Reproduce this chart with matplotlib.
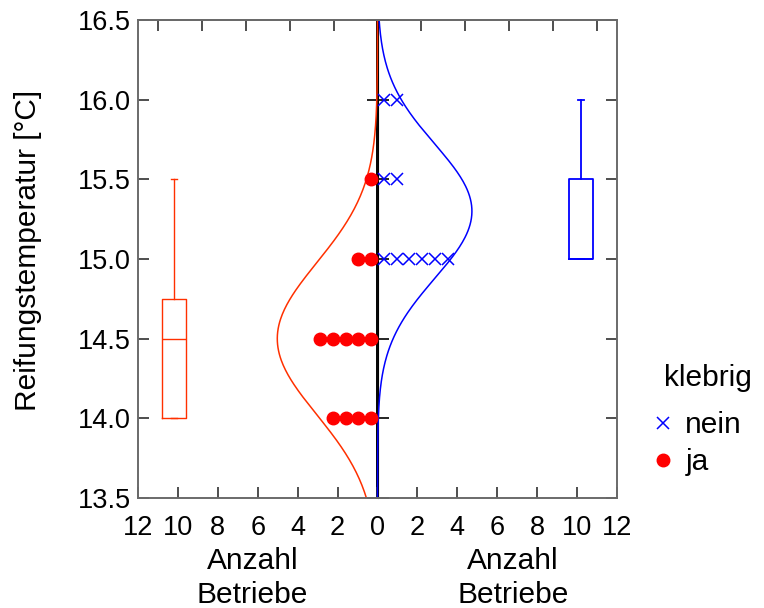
import matplotlib
matplotlib.use("Agg")
import matplotlib.pyplot as plt
import numpy as np
from matplotlib.lines import Line2D

plt.rcParams["font.family"] = ["Liberation Sans", "DejaVu Sans"]

# temperature levels and number of farms per level
levels = [14.0, 14.5, 15.0, 15.5, 16.0]
count_ja = [4, 5, 2, 1, 0]      # klebrig = ja (red, left)
count_nein = [0, 0, 6, 2, 2]    # klebrig = nein (blue, right)

x_ticks = [-12, -10, -8, -6, -4, -2, 0, 2, 4, 6, 8, 10, 12]
y_ticks = [13.5, 14.0, 14.5, 15.0, 15.5, 16.0, 16.5]

RED = "#ff3000"
DOT = "#ff0000"
BLUE = "#0000ff"
FRAME = "#6a6a6a"
TICK = "#303030"
FS = 19.5      # tick labels
FL = 21.5      # axis titles / legend

step = 0.64       # spacing of stacked symbols
bin_w = 0.5       # bin width used to scale the normal curve to counts
top_scale = 10.9 / 12   # top axis runs on a slightly different scale


def expand(counts):
    return np.repeat(levels, counts)


def tukey_stats(values):
    v = np.sort(values)
    n = len(v)
    half = n // 2
    lower = v[: half + (n % 2)]
    upper = v[half:]
    q1, med, q3 = np.median(lower), np.median(v), np.median(upper)
    iqr = q3 - q1
    lo = v[v >= q1 - 1.5 * iqr].min()
    hi = v[v <= q3 + 1.5 * iqr].max()
    return dict(med=med, q1=q1, q3=q3, whislo=lo, whishi=hi, fliers=[])


fig = plt.figure(figsize=(7.64, 6.08), dpi=100)
ax = fig.add_axes([138 / 764, 110 / 608, 479 / 764, 478 / 608])
ax.set_xlim(-12, 12)
ax.set_ylim(13.5, 16.5)

ax.axvline(0, color="black", lw=1.4, zorder=1)

# normal curves scaled to counts
yy = np.linspace(13.5, 16.5, 300)
for counts, sign, color in [(count_ja, -1, RED), (count_nein, 1, BLUE)]:
    data = expand(counts)
    mu, sd = data.mean(), data.std(ddof=1)
    dens = np.exp(-0.5 * ((yy - mu) / sd) ** 2) / (sd * np.sqrt(2 * np.pi))
    ax.plot(sign * dens * len(data) * bin_w, yy, color=color, lw=1.1, zorder=2)

# stacked symbols
for lev, c in zip(levels, count_ja):
    xs = -(np.arange(c) + 0.5) * step
    ax.plot(xs, [lev] * c, "o", color=DOT, ms=9, mec=DOT, ls="none", zorder=3)
for lev, c in zip(levels, count_nein):
    xs = (np.arange(c) + 0.5) * step
    ax.plot(xs, [lev] * c, "x", color=BLUE, ms=8, mew=1.1, ls="none", zorder=3)

# boxplots
for counts, pos, color, lw in [(count_ja, -10.2, RED, 1.0), (count_nein, 10.2, BLUE, 1.3)]:
    st = tukey_stats(expand(counts))
    ax.bxp([st], positions=[pos], widths=1.18, showfliers=False,
           boxprops=dict(color=color, lw=lw), whiskerprops=dict(color=color, lw=lw),
           capprops=dict(color=color, lw=lw), medianprops=dict(color=color, lw=lw),
           capwidths=0.3, manage_ticks=False)

ax.set_xticks(x_ticks)
ax.set_xticklabels([str(abs(t)) for t in x_ticks])
ax.set_yticks(y_ticks)
ax.set_yticklabels([f"{t:.1f}" for t in y_ticks])
ax.tick_params(axis="both", direction="in", length=8, width=1.2, color=TICK,
               labelsize=FS, right=True, top=False)
ax.tick_params(axis="x", pad=12)
ax.tick_params(axis="y", pad=5)
for s in ax.spines.values():
    s.set_color(FRAME)
    s.set_linewidth(1.4)

ax.set_ylabel("Reifungstemperatur [°C]", fontsize=FL)
ax.yaxis.set_label_coords(-0.2, 0.517)

# top axis ticks on their own scale
top = ax.secondary_xaxis("top", functions=(lambda x: x * top_scale, lambda x: x / top_scale))
top.set_xticks(np.arange(-10, 11, 2))
top.tick_params(direction="in", length=8, width=1.2, color=TICK, labeltop=False)
top.spines["top"].set_color(FRAME)
top.spines["top"].set_linewidth(1.4)

# center ticks at x = 0
mid = ax.secondary_yaxis(0.5)
mid.set_yticks(y_ticks)
mid.set_yticklabels([])
mid.tick_params(direction="inout", length=16, width=1.2, color="black",
                labelleft=False, labelright=False)
mid.spines["left"].set_visible(False)

for xc in (252.5, 513):
    fig.text(xc / 764, 1 - 547 / 608, "Anzahl\nBetriebe", ha="center", va="top",
             fontsize=FL, linespacing=1.28)

fig.text(664 / 764, 1 - 378 / 608, "klebrig", ha="left", va="center", fontsize=FL)
handles = [Line2D([], [], marker="x", color=BLUE, ls="none", ms=8, mew=1.1),
           Line2D([], [], marker="o", color=DOT, ls="none", ms=9)]
fig.legend(handles, ["nein", "ja"], loc="upper left",
           bbox_to_anchor=(657 / 764, 1 - 411 / 608), frameon=False,
           fontsize=FL, handlelength=0.4, handletextpad=0.55,
           labelspacing=0.3, borderaxespad=0, borderpad=0)

fig.savefig("out.png", dpi=100)
